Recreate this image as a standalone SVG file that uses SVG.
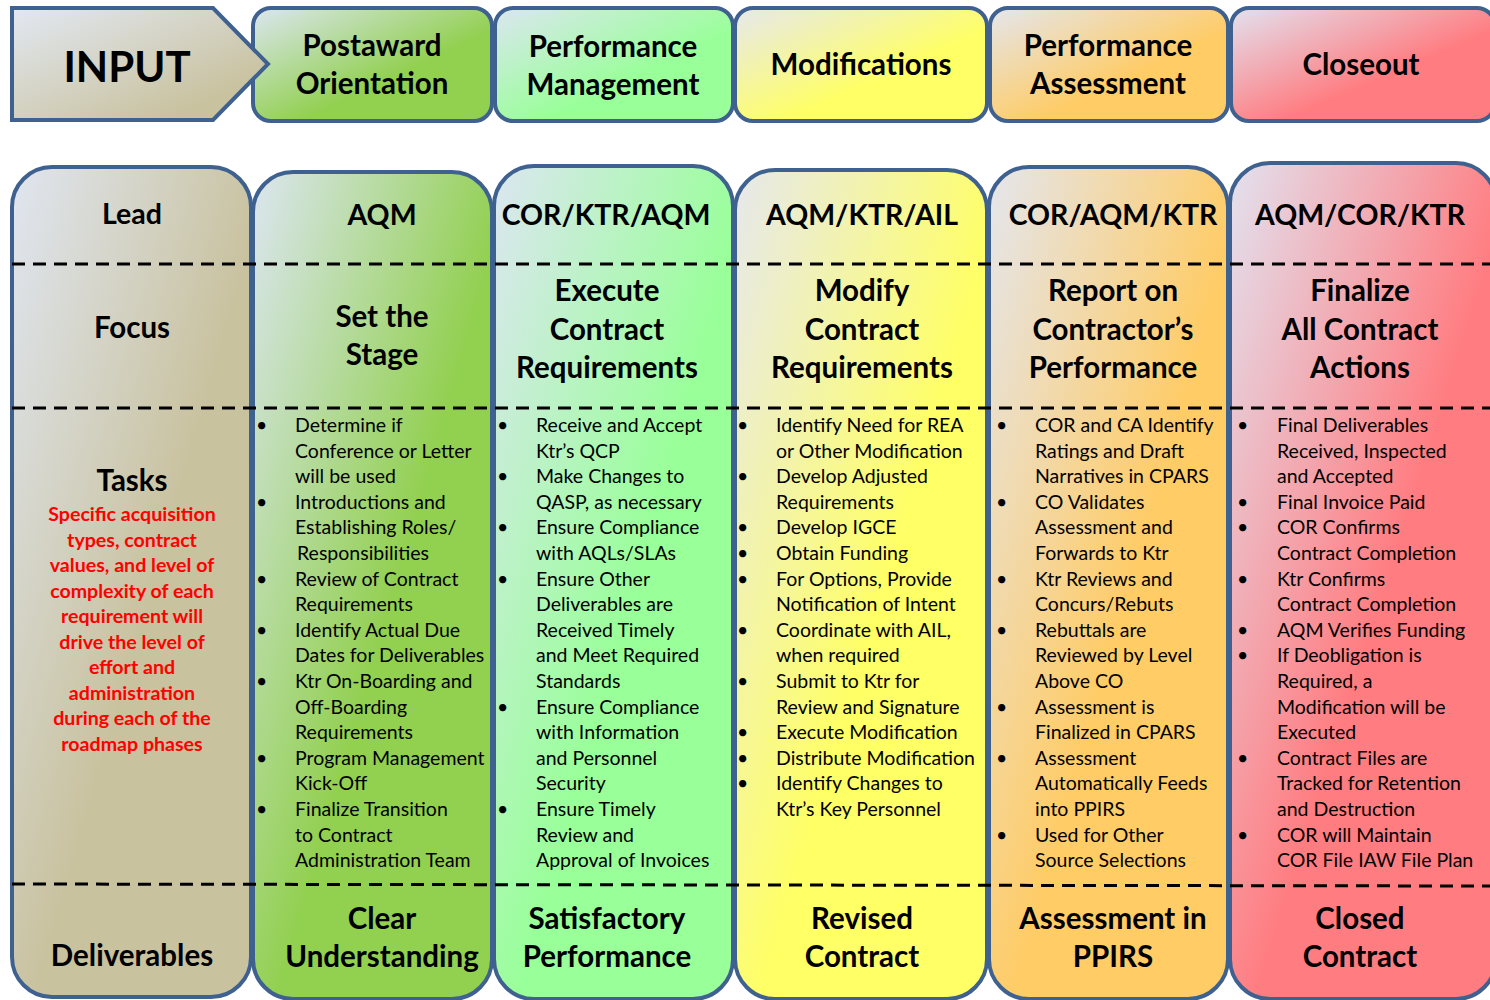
<svg xmlns="http://www.w3.org/2000/svg" width="1490" height="1000" viewBox="0 0 1490 1000">
<defs>
<linearGradient id="gTan" x1="0" y1="0" x2="1" y2="1"><stop offset="0" stop-color="#E0E6F1"/><stop offset="0.55" stop-color="#C9C29F"/><stop offset="1" stop-color="#C9C29F"/></linearGradient>
<linearGradient id="gGreen" x1="0" y1="0" x2="1" y2="1"><stop offset="0" stop-color="#DCE6F1"/><stop offset="0.55" stop-color="#92D050"/><stop offset="1" stop-color="#92D050"/></linearGradient>
<linearGradient id="gLGreen" x1="0" y1="0" x2="1" y2="1"><stop offset="0" stop-color="#DCE6F1"/><stop offset="0.55" stop-color="#99FF99"/><stop offset="1" stop-color="#99FF99"/></linearGradient>
<linearGradient id="gYellow" x1="0" y1="0" x2="1" y2="1"><stop offset="0" stop-color="#E6E8EE"/><stop offset="0.55" stop-color="#FFFF66"/><stop offset="1" stop-color="#FFFF66"/></linearGradient>
<linearGradient id="gOrange" x1="0" y1="0" x2="1" y2="1"><stop offset="0" stop-color="#E4E6EE"/><stop offset="0.55" stop-color="#FFCC66"/><stop offset="1" stop-color="#FFCC66"/></linearGradient>
<linearGradient id="gPink" x1="0" y1="0" x2="1" y2="1"><stop offset="0" stop-color="#E2E2EF"/><stop offset="0.55" stop-color="#FF7C80"/><stop offset="1" stop-color="#FF7C80"/></linearGradient>
<linearGradient id="hTan" x1="0" y1="0" x2="1" y2="1"><stop offset="0" stop-color="#E2E8F2"/><stop offset="0.8" stop-color="#C9C29F"/></linearGradient>
<linearGradient id="hGreen" x1="0" y1="0" x2="1" y2="1"><stop offset="0" stop-color="#DCE6F1"/><stop offset="0.6" stop-color="#92D050"/></linearGradient>
<linearGradient id="hLGreen" x1="0" y1="0" x2="1" y2="1"><stop offset="0" stop-color="#DCE6F1"/><stop offset="0.6" stop-color="#99FF99"/></linearGradient>
<linearGradient id="hYellow" x1="0" y1="0" x2="1" y2="1"><stop offset="0" stop-color="#E6E8EE"/><stop offset="0.6" stop-color="#FFFF66"/></linearGradient>
<linearGradient id="hOrange" x1="0" y1="0" x2="1" y2="1"><stop offset="0" stop-color="#E4E6EE"/><stop offset="0.6" stop-color="#FFCC66"/></linearGradient>
<linearGradient id="hPink" x1="0" y1="0" x2="1" y2="1"><stop offset="0" stop-color="#E2E2EF"/><stop offset="0.6" stop-color="#FF7C80"/></linearGradient>
<style>
.box{stroke:#3F6190;stroke-width:4}
.t{font-family:Lato,"Liberation Sans",sans-serif;fill:#000}
.b{font-weight:bold;font-size:29.5px;text-anchor:middle}
.r1{font-weight:bold;font-size:28.5px;text-anchor:middle}
.hd{font-weight:bold;font-size:29.5px;text-anchor:middle}
.big{font-weight:bold;font-size:42px;text-anchor:middle}
.red{font-weight:bold;font-size:19.6px;text-anchor:middle;fill:#FF0000}
.n{font-size:19.5px}
.dash{stroke:#000;stroke-width:3;stroke-dasharray:13 8;fill:none}
</style>
</defs>

<g id="header-postaward"><rect class="box" x="253" y="8" width="239" height="113" rx="18" fill="url(#hGreen)"/><text class="t hd" x="372" y="56">Postaward</text><text class="t hd" x="372" y="94">Orientation</text></g>
<g id="header-input"><polygon class="box" points="12,8 213,8 268,64 213,120 12,120" fill="url(#hTan)" stroke-linejoin="miter"/><text class="t big" x="127" y="82">INPUT</text></g>
<g id="header-perfmgmt"><rect class="box" x="495" y="8" width="238" height="113" rx="18" fill="url(#hLGreen)"/><text class="t hd" x="613" y="57">Performance</text><text class="t hd" x="613" y="95">Management</text></g>
<g id="header-mods"><rect class="box" x="735" y="8" width="252" height="113" rx="18" fill="url(#hYellow)"/><text class="t hd" x="861" y="75">Modifications</text></g>
<g id="header-assess"><rect class="box" x="990" y="8" width="238" height="113" rx="18" fill="url(#hOrange)"/><text class="t hd" x="1108" y="56">Performance</text><text class="t hd" x="1108" y="94">Assessment</text></g>
<g id="header-closeout"><rect class="box" x="1231" y="8" width="264" height="113" rx="18" fill="url(#hPink)"/><text class="t hd" x="1361" y="75">Closeout</text></g>

<g id="col-lead"><rect class="box" x="12" y="167" width="239" height="830" rx="40" fill="url(#gTan)"/>
<text class="t r1" x="132" y="224">Lead</text>
<text class="t b" x="132" y="338">Focus</text>
<text class="t b" x="132" y="491">Tasks</text>
<text class="t red" x="132" y="521">Specific acquisition</text>
<text class="t red" x="132" y="546.5">types, contract</text>
<text class="t red" x="132" y="572">values, and level of</text>
<text class="t red" x="132" y="597.5">complexity of each</text>
<text class="t red" x="132" y="623">requirement will</text>
<text class="t red" x="132" y="648.5">drive the  level of</text>
<text class="t red" x="132" y="674">effort and</text>
<text class="t red" x="132" y="699.5">administration</text>
<text class="t red" x="132" y="725">during each of the</text>
<text class="t red" x="132" y="750.5">roadmap phases</text>
<text class="t b" x="132" y="966">Deliverables</text>
</g>

<g id="col-aqm"><rect class="box" x="253" y="172" width="239" height="827" rx="40" fill="url(#gGreen)"/>
<text class="t r1" x="382" y="225">AQM</text>
<text class="t b" x="382" y="327">Set the</text>
<text class="t b" x="382" y="365">Stage</text>
<g class="t n">
<text x="256" y="432">•</text><text x="295" y="432">Determine if</text>
<text x="295" y="457.6">Conference or Letter</text>
<text x="295" y="483.2">will  be used</text>
<text x="256" y="508.8">•</text><text x="295" y="508.8">Introductions and</text>
<text x="295" y="534.4">Establishing Roles/</text>
<text x="297" y="560">Responsibilities</text>
<text x="256" y="585.6">•</text><text x="295" y="585.6">Review of Contract</text>
<text x="295" y="611.2">Requirements</text>
<text x="256" y="636.8">•</text><text x="295" y="636.8">Identify Actual Due</text>
<text x="295" y="662.4">Dates for Deliverables</text>
<text x="256" y="688">•</text><text x="295" y="688">Ktr On-Boarding and</text>
<text x="295" y="713.6">Off-Boarding</text>
<text x="295" y="739.2">Requirements</text>
<text x="256" y="764.8">•</text><text x="295" y="764.8">Program Management</text>
<text x="295" y="790.4">Kick-Off</text>
<text x="256" y="816">•</text><text x="295" y="816">Finalize Transition</text>
<text x="295" y="841.6">to Contract</text>
<text x="295" y="867.2">Administration Team</text>
</g>
<text class="t b" x="382" y="929">Clear</text>
<text class="t b" x="382" y="967">Understanding</text>
</g>

<g id="col-perfmgmt"><rect class="box" x="494" y="166" width="239" height="833" rx="40" fill="url(#gLGreen)"/>
<text class="t r1" x="606" y="225">COR/KTR/AQM</text>
<text class="t b" x="607" y="301">Execute</text>
<text class="t b" x="607" y="340">Contract</text>
<text class="t b" x="607" y="378">Requirements</text>
<g class="t n">
<text x="497" y="432">•</text><text x="536" y="432">Receive and Accept</text>
<text x="536" y="457.6">Ktr’s QCP</text>
<text x="497" y="483.2">•</text><text x="536" y="483.2">Make Changes to</text>
<text x="536" y="508.8">QASP, as necessary</text>
<text x="497" y="534.4">•</text><text x="536" y="534.4">Ensure Compliance</text>
<text x="536" y="560">with AQLs/SLAs</text>
<text x="497" y="585.6">•</text><text x="536" y="585.6">Ensure Other</text>
<text x="536" y="611.2">Deliverables are</text>
<text x="536" y="636.8">Received Timely</text>
<text x="536" y="662.4">and Meet Required</text>
<text x="536" y="688">Standards</text>
<text x="497" y="713.6">•</text><text x="536" y="713.6">Ensure Compliance</text>
<text x="536" y="739.2">with Information</text>
<text x="536" y="764.8">and Personnel</text>
<text x="536" y="790.4">Security</text>
<text x="497" y="816">•</text><text x="536" y="816">Ensure Timely</text>
<text x="536" y="841.6">Review and</text>
<text x="536" y="867.2">Approval of Invoices</text>
</g>
<text class="t b" x="607" y="929">Satisfactory</text>
<text class="t b" x="607" y="967">Performance</text>
</g>

<g id="col-mods"><rect class="box" x="735" y="170" width="252" height="829" rx="40" fill="url(#gYellow)"/>
<text class="t r1" x="862" y="225">AQM/KTR/AIL</text>
<text class="t b" x="862" y="301">Modify</text>
<text class="t b" x="862" y="340">Contract</text>
<text class="t b" x="862" y="378">Requirements</text>
<g class="t n">
<text x="737" y="432">•</text><text x="776" y="432">Identify Need for REA</text>
<text x="776" y="457.6">or Other Modification</text>
<text x="737" y="483.2">•</text><text x="776" y="483.2">Develop Adjusted</text>
<text x="776" y="508.8">Requirements</text>
<text x="737" y="534.4">•</text><text x="776" y="534.4">Develop IGCE</text>
<text x="737" y="560">•</text><text x="776" y="560">Obtain Funding</text>
<text x="737" y="585.6">•</text><text x="776" y="585.6">For Options, Provide</text>
<text x="776" y="611.2">Notification of Intent</text>
<text x="737" y="636.8">•</text><text x="776" y="636.8">Coordinate with AIL,</text>
<text x="776" y="662.4">when required</text>
<text x="737" y="688">•</text><text x="776" y="688">Submit to Ktr for</text>
<text x="776" y="713.6">Review and Signature</text>
<text x="737" y="739.2">•</text><text x="776" y="739.2">Execute Modification</text>
<text x="737" y="764.8">•</text><text x="776" y="764.8">Distribute Modification</text>
<text x="737" y="790.4">•</text><text x="776" y="790.4">Identify Changes to</text>
<text x="776" y="816">Ktr’s Key Personnel</text>
</g>
<text class="t b" x="862" y="929">Revised</text>
<text class="t b" x="862" y="967">Contract</text>
</g>

<g id="col-assess"><rect class="box" x="989" y="167" width="239" height="832" rx="40" fill="url(#gOrange)"/>
<text class="t r1" x="1113" y="225">COR/AQM/KTR</text>
<text class="t b" x="1113" y="301">Report on</text>
<text class="t b" x="1113" y="340">Contractor’s</text>
<text class="t b" x="1113" y="378">Performance</text>
<g class="t n">
<text x="996" y="432">•</text><text x="1035" y="432">COR and CA Identify</text>
<text x="1035" y="457.6">Ratings and Draft</text>
<text x="1035" y="483.2">Narratives in CPARS</text>
<text x="996" y="508.8">•</text><text x="1035" y="508.8">CO Validates</text>
<text x="1035" y="534.4">Assessment and</text>
<text x="1035" y="560">Forwards to Ktr</text>
<text x="996" y="585.6">•</text><text x="1035" y="585.6">Ktr Reviews and</text>
<text x="1035" y="611.2">Concurs/Rebuts</text>
<text x="996" y="636.8">•</text><text x="1035" y="636.8">Rebuttals are</text>
<text x="1035" y="662.4">Reviewed by Level</text>
<text x="1035" y="688">Above CO</text>
<text x="996" y="713.6">•</text><text x="1035" y="713.6">Assessment is</text>
<text x="1035" y="739.2">Finalized in CPARS</text>
<text x="996" y="764.8">•</text><text x="1035" y="764.8">Assessment</text>
<text x="1035" y="790.4">Automatically Feeds</text>
<text x="1035" y="816">into PPIRS</text>
<text x="996" y="841.6">•</text><text x="1035" y="841.6">Used for Other</text>
<text x="1035" y="867.2">Source  Selections</text>
</g>
<text class="t b" x="1113" y="929">Assessment in</text>
<text class="t b" x="1113" y="967">PPIRS</text>
</g>

<g id="col-closeout"><rect class="box" x="1230" y="163" width="266" height="836" rx="40" fill="url(#gPink)"/>
<text class="t r1" x="1360" y="225">AQM/COR/KTR</text>
<text class="t b" x="1360" y="301">Finalize</text>
<text class="t b" x="1360" y="340">All Contract</text>
<text class="t b" x="1360" y="378">Actions</text>
<g class="t n">
<text x="1237" y="432">•</text><text x="1277" y="432">Final Deliverables</text>
<text x="1277" y="457.6">Received, Inspected</text>
<text x="1277" y="483.2">and Accepted</text>
<text x="1237" y="508.8">•</text><text x="1277" y="508.8">Final Invoice Paid</text>
<text x="1237" y="534.4">•</text><text x="1277" y="534.4">COR Confirms</text>
<text x="1277" y="560">Contract Completion</text>
<text x="1237" y="585.6">•</text><text x="1277" y="585.6">Ktr Confirms</text>
<text x="1277" y="611.2">Contract Completion</text>
<text x="1237" y="636.8">•</text><text x="1277" y="636.8">AQM Verifies Funding</text>
<text x="1237" y="662.4">•</text><text x="1277" y="662.4">If Deobligation is</text>
<text x="1277" y="688">Required, a</text>
<text x="1277" y="713.6">Modification will be</text>
<text x="1277" y="739.2">Executed</text>
<text x="1237" y="764.8">•</text><text x="1277" y="764.8">Contract Files are</text>
<text x="1277" y="790.4">Tracked for Retention</text>
<text x="1277" y="816">and Destruction</text>
<text x="1237" y="841.6">•</text><text x="1277" y="841.6">COR will Maintain</text>
<text x="1277" y="867.2">COR File IAW File Plan</text>
</g>
<text class="t b" x="1360" y="929">Closed</text>
<text class="t b" x="1360" y="967">Contract</text>
</g>

<g id="row-dividers">
<line class="dash" x1="12" y1="264" x2="1490" y2="264"/>
<line class="dash" x1="12" y1="408" x2="1490" y2="408"/>
<line class="dash" x1="12" y1="884" x2="1490" y2="886"/>
</g>
</svg>
